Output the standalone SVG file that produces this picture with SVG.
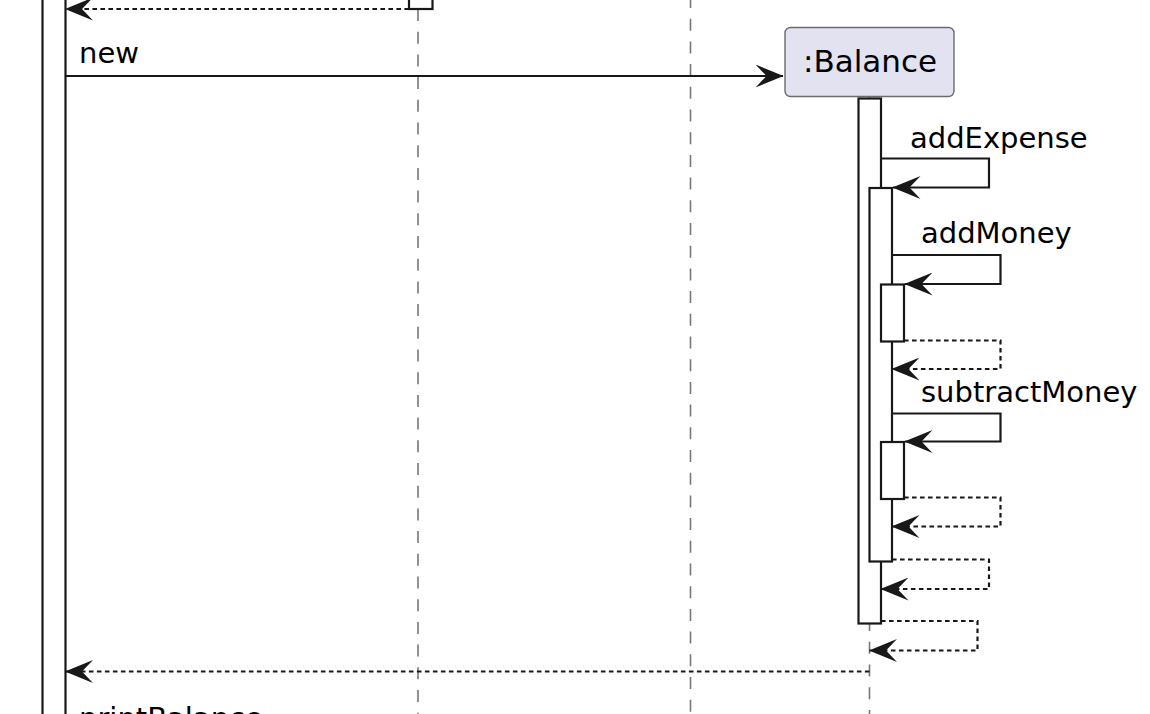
<svg xmlns="http://www.w3.org/2000/svg" width="1150" height="714" viewBox="0 0 1150 714">
<style>
.life{stroke:#777;stroke-width:1.6;stroke-dasharray:12,10.7;fill:none}
.act{fill:#ffffff;stroke:#181818;stroke-width:2.2}
.msg{stroke:#181818;stroke-width:2.2;fill:none}
.ret{stroke:#181818;stroke-width:2.2;fill:none;stroke-dasharray:4.6,3.4}
.lbl{font-family:"DejaVu Sans",sans-serif;font-size:29px;fill:#000}
.part{font-family:"DejaVu Sans",sans-serif;font-size:31px;fill:#000}
</style>
<defs>
<marker id="ah" markerUnits="userSpaceOnUse" viewBox="0 0 28 23" refX="27.5" refY="11.5" markerWidth="28" markerHeight="23" orient="auto">
<path d="M0,0 L28,11.5 L0,23 L11,11.5 Z" fill="#181818" stroke="none"/>
</marker>
</defs>
<rect width="1150" height="714" fill="#ffffff"/>
<g id="lifelines">
<line class="life" x1="418" y1="9" x2="418" y2="714"/>
<line class="life" x1="690.5" y1="-4" x2="690.5" y2="714"/>
<line class="life" x1="869.5" y1="97" x2="869.5" y2="714"/>
</g>
<g id="participant-left">
<rect class="act" x="42.5" y="-10" width="23" height="740"/>
</g>
<g id="participant-mid">
<rect class="act" x="409" y="-20" width="23.5" height="29"/>
</g>
<g id="participant-balance">
<rect x="785" y="27.5" width="169" height="69" rx="5.5" ry="5.5" fill="#E2E2F0" stroke="#6b6b6b" stroke-width="1.4"/>
<text class="part" x="870" y="72" text-anchor="middle">:Balance</text>
</g>
<g id="activations">
<rect class="act" x="858.5" y="98.5" width="22.5" height="525"/>
<rect class="act" x="869.5" y="188" width="22.5" height="373.5"/>
<rect class="act" x="881" y="284.5" width="23" height="57"/>
<rect class="act" x="881" y="442" width="23" height="57"/>
</g>
<g id="connectors">
<line class="ret" x1="409" y1="9" x2="65.5" y2="9" marker-end="url(#ah)"/>
<line class="msg" x1="65.5" y1="76" x2="783" y2="76" marker-end="url(#ah)"/>
<text class="lbl" x="79" y="63">new</text>
<path class="msg" d="M881,158.5 H989 V187.5 H893" marker-end="url(#ah)"/>
<text class="lbl" x="910" y="148">addExpense</text>
<path class="msg" d="M892,255 H1000.5 V284 H905" marker-end="url(#ah)"/>
<text class="lbl" x="921" y="243">addMoney</text>
<path class="ret" d="M904,340.5 H1000.5 V369 H892" marker-end="url(#ah)"/>
<path class="msg" d="M892,413.5 H1000.5 V441.5 H905" marker-end="url(#ah)"/>
<text class="lbl" x="921" y="402">subtractMoney</text>
<path class="ret" d="M904,497.5 H1000.5 V526.5 H892" marker-end="url(#ah)"/>
<path class="ret" d="M892,559.5 H989 V589 H881" marker-end="url(#ah)"/>
<path class="ret" d="M881,621 H977.5 V650.5 H869.5" marker-end="url(#ah)"/>
<line class="ret" x1="869.5" y1="671.5" x2="65.5" y2="671.5" marker-end="url(#ah)"/>
<text class="lbl" x="79" y="728">printBalance</text>
</g>
</svg>
